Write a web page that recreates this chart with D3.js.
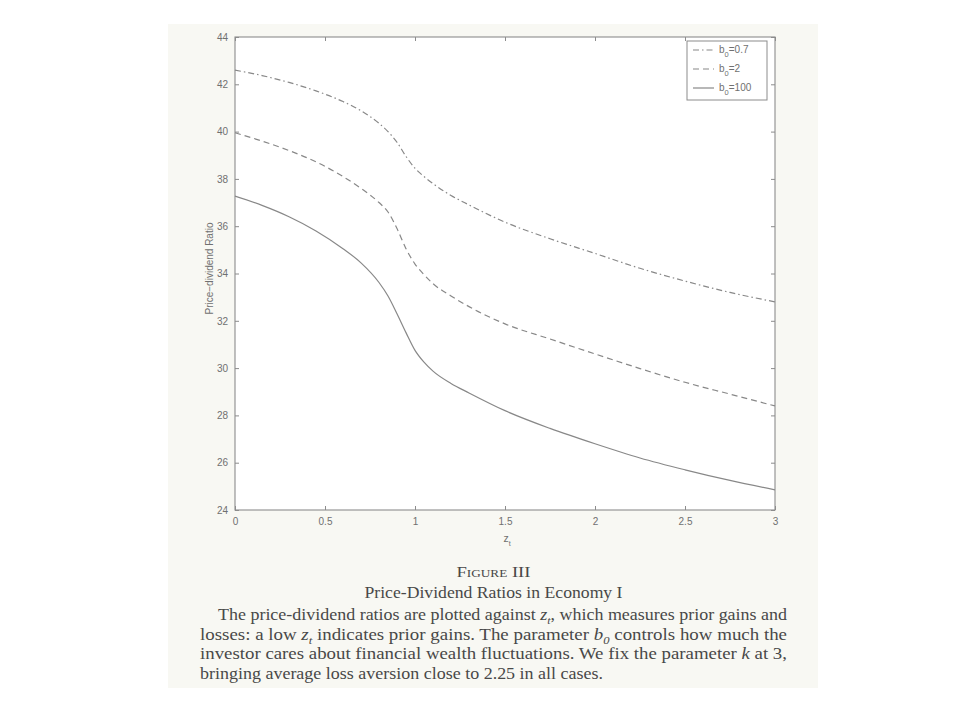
<!DOCTYPE html>
<html><head><meta charset="utf-8">
<script src="https://cdn.jsdelivr.net/npm/d3@7"></script>
<style>
html,body{margin:0;padding:0;background:#fff;}
</style></head>
<body>
<svg id="chart" width="960" height="720"></svg>
<script>
const zGrid = [0, 0.15, 0.3, 0.45, 0.6, 0.7, 0.8, 0.85, 0.9, 0.95, 1.0, 1.05, 1.1, 1.2, 1.3, 1.5, 1.75, 2.0, 2.25, 2.5, 2.75, 3.0];
const seriesB07 = [42.6, 42.37, 42.08, 41.72, 41.27, 40.88, 40.35, 40.0, 39.55, 38.95, 38.45, 38.1, 37.8, 37.3, 36.9, 36.17, 35.47, 34.85, 34.22, 33.68, 33.2, 32.8];
const seriesB2 = [39.95, 39.6, 39.2, 38.72, 38.1, 37.6, 37.0, 36.6, 35.9, 35.05, 34.4, 33.95, 33.57, 33.05, 32.6, 31.87, 31.23, 30.6, 29.98, 29.4, 28.9, 28.4];
const seriesB100 = [37.27, 36.88, 36.4, 35.8, 35.05, 34.45, 33.62, 33.05, 32.3, 31.5, 30.75, 30.25, 29.87, 29.35, 28.95, 28.2, 27.45, 26.8, 26.2, 25.7, 25.25, 24.85];
const seriesNames = ["0.7", "2", "100"];
const xTicks = [0, 0.5, 1, 1.5, 2, 2.5, 3];
const yTicks = [24, 26, 28, 30, 32, 34, 36, 38, 40, 42, 44];
const captionLines = [
  "The price-dividend ratios are plotted against |z|t|, which measures prior gains and",
  "losses: a low |z|t| indicates prior gains. The parameter |b|0| controls how much the",
  "investor cares about financial wealth fluctuations. We fix the parameter |k|| at 3,",
  "bringing average loss aversion close to 2.25 in all cases."
];

const svg = d3.select("#chart");
svg.append("rect").attr("x",168).attr("y",24).attr("width",650).attr("height",664).attr("fill","#f8f8f3");

const L=235, R=775, T=37, B=510;
const x = d3.scaleLinear().domain([0,3]).range([L,R]);
const y = d3.scaleLinear().domain([24,44]).range([B,T]);
const axisCol = "#8c8c8c", lineCol = "#888", tickTxt = "#707070";
const sans = "Liberation Sans, Arial, sans-serif";

svg.append("rect").attr("x",L).attr("y",T).attr("width",R-L).attr("height",B-T).attr("fill","#fff");

function styleAxis(g){
  g.select(".domain").remove();
  g.selectAll(".tick line").attr("stroke",axisCol).attr("stroke-width",1);
  g.selectAll(".tick text").attr("fill",tickTxt).attr("font-family",sans).attr("font-size","10px");
}
const fmt = d => String(d);
svg.append("g").attr("transform",`translate(0,${B})`)
  .call(d3.axisBottom(x).tickValues(xTicks).tickFormat(fmt).tickSizeInner(-4).tickSizeOuter(0).tickPadding(8))
  .call(styleAxis);
svg.append("g").attr("transform",`translate(0,${T})`)
  .call(d3.axisTop(x).tickValues(xTicks).tickFormat("").tickSizeInner(-4).tickSizeOuter(0))
  .call(styleAxis);
svg.append("g").attr("transform",`translate(${L},0)`)
  .call(d3.axisLeft(y).tickValues(yTicks).tickFormat(fmt).tickSizeInner(-4).tickSizeOuter(0).tickPadding(7))
  .call(styleAxis);
svg.append("g").attr("transform",`translate(${R},0)`)
  .call(d3.axisRight(y).tickValues(yTicks).tickFormat("").tickSizeInner(-4).tickSizeOuter(0))
  .call(styleAxis);
svg.append("rect").attr("x",L).attr("y",T).attr("width",R-L).attr("height",B-T)
  .attr("fill","none").attr("stroke",axisCol).attr("stroke-width",1.1);

svg.append("text").attr("transform",`translate(213,${(T+B)/2 - 5}) rotate(-90)`)
  .attr("text-anchor","middle").attr("fill",tickTxt)
  .attr("font-family",sans).attr("font-size","10px")
  .text("Price\u2212dividend Ratio");
const xl = svg.append("text").attr("x",(L+R)/2 + 2).attr("y",542).attr("text-anchor","middle")
  .attr("fill",tickTxt).attr("font-family",sans).attr("font-size","10.5px");
xl.append("tspan").text("z");
xl.append("tspan").attr("dy",4).attr("font-size","7px").text("t");

const allSeries = [
  {name:seriesNames[0], vals:seriesB07, dash:"6,3,1.5,3"},
  {name:seriesNames[1], vals:seriesB2, dash:"6,4"},
  {name:seriesNames[2], vals:seriesB100, dash:null}
];
const line = d3.line().x(d=>x(d[0])).y(d=>y(d[1])).curve(d3.curveMonotoneX);
allSeries.forEach(s=>{
  svg.append("path").datum(zGrid.map((z,i)=>[z,s.vals[i]]))
    .attr("d",line).attr("fill","none").attr("stroke",lineCol).attr("stroke-width",1.2)
    .attr("stroke-dasharray",s.dash);
});

const lg = svg.append("g");
lg.append("rect").attr("x",687).attr("y",41).attr("width",80).attr("height",59)
  .attr("fill","#fff").attr("stroke",axisCol).attr("stroke-width",1);
allSeries.forEach((s,i)=>{
  const yy = 50 + i*19;
  lg.append("line").attr("x1",693).attr("x2",714).attr("y1",yy).attr("y2",yy)
    .attr("stroke",lineCol).attr("stroke-width",1.2).attr("stroke-dasharray",s.dash);
  const t = lg.append("text").attr("x",719).attr("y",yy+3).attr("fill",tickTxt)
    .attr("font-family",sans).attr("font-size","10px");
  t.append("tspan").text("b");
  t.append("tspan").attr("dy",4).attr("font-size","7.5px").text("0");
  t.append("tspan").attr("dy",-4).text("=" + s.name);
});

const capCol = "#484848";
const serif = "Liberation Serif, Times New Roman, serif";
const capCenter = 493.5;
svg.append("text").attr("x",capCenter - 37).attr("y",577).attr("fill",capCol)
  .attr("font-family",serif).attr("font-size","15.5px").attr("textLength",74).attr("lengthAdjust","spacingAndGlyphs")
  .style("font-variant","small-caps").text("Figure III");
svg.append("text").attr("x",capCenter - 129).attr("y",598).attr("fill",capCol)
  .attr("font-family",serif).attr("font-size","17px").attr("textLength",258).attr("lengthAdjust","spacingAndGlyphs")
  .text("Price-Dividend Ratios in Economy I");
const capX = [218,200,200,200], capW = [569,587,587,403];
captionLines.forEach((ln,i)=>{
  const t = svg.append("text").attr("x",capX[i]).attr("y",620 + i*19.5).attr("fill",capCol)
    .attr("font-family",serif).attr("font-size","16.5px")
    .attr("textLength",capW[i]).attr("lengthAdjust","spacingAndGlyphs");
  const parts = ln.split("|");
  let shifted = false;
  for (let k=0;k<parts.length;k++){
    const m = k%3;
    if (m===0) {
      const ts = t.append("tspan").text(parts[k]);
      if (shifted) { ts.attr("dy",-4); shifted = false; }
    } else if (m===1) {
      t.append("tspan").attr("font-style","italic").text(parts[k]);
    } else if (parts[k]) {
      t.append("tspan").attr("dy",4).attr("font-size","11px").attr("font-style","italic").text(parts[k]);
      shifted = true;
    }
  }
});
</script>
</body></html>
